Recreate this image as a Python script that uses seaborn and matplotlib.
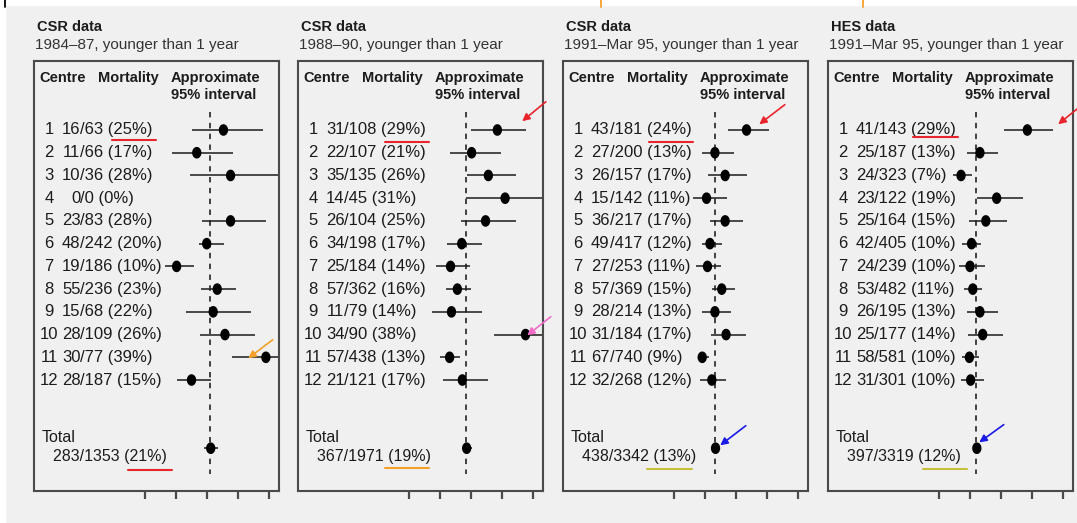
import numpy as np
import matplotlib
matplotlib.use("Agg")
import matplotlib.pyplot as plt
from matplotlib.lines import Line2D
from matplotlib.patches import Rectangle
from matplotlib.transforms import blended_transform_factory
import seaborn as sns

# ---------------- data ----------------
titles = ["CSR data", "CSR data", "CSR data", "HES data"]
subtitles = ["1984\u201387, younger than 1 year",
             "1988\u201390, younger than 1 year",
             "1991\u2013Mar 95, younger than 1 year",
             "1991\u2013Mar 95, younger than 1 year"]
centres = list(range(1, 13))

deaths1 = [16, 11, 10, 0, 23, 48, 19, 55, 15, 28, 30, 28]
n1 = [63, 66, 36, 0, 83, 242, 186, 236, 68, 109, 77, 187]
pct1 = [25, 17, 28, 0, 28, 20, 10, 23, 22, 26, 39, 15]
est1 = [25.3, 16.7, 27.6, np.nan, 27.6, 19.9, 10.2, 23.3, 22.0, 25.8, 39.0, 15.0]
lo1 = [15.3, 8.8, 14.5, np.nan, 18.3, 17.5, 6.5, 18.0, 13.1, 17.7, 28.2, 10.4]
hi1 = [38.2, 28.3, 48.0, np.nan, 38.9, 25.5, 15.8, 29.4, 34.2, 35.5, 50.0, 21.2]

deaths2 = [31, 22, 35, 14, 26, 34, 25, 57, 11, 34, 57, 21]
n2 = [108, 107, 135, 45, 104, 198, 184, 362, 79, 90, 438, 121]
pct2 = [29, 21, 26, 31, 25, 17, 14, 16, 14, 38, 13, 17]
est2 = [28.5, 20.2, 25.6, 31.0, 24.7, 17.0, 13.4, 15.6, 13.7, 37.6, 13.1, 17.2]
lo2 = [19.9, 13.2, 18.6, 18.3, 16.9, 12.2, 8.8, 11.8, 7.3, 27.4, 9.9, 11.0]
hi2 = [37.9, 29.6, 34.4, 48.0, 34.4, 23.4, 19.7, 19.9, 23.7, 48.0, 16.5, 25.5]

deaths3 = [43, 27, 26, 15, 36, 49, 27, 57, 28, 31, 67, 32]
n3 = [181, 200, 157, 142, 217, 417, 253, 369, 214, 184, 740, 268]
pct3 = [24, 13, 17, 11, 17, 12, 11, 15, 13, 17, 9, 12]
est3 = [23.4, 13.2, 16.5, 10.5, 16.5, 11.6, 10.8, 15.4, 13.2, 16.8, 9.1, 12.2]
lo3 = [17.3, 8.9, 11.1, 6.2, 11.6, 8.9, 7.1, 12.2, 8.9, 11.9, 7.8, 8.4]
hi3 = [30.6, 19.4, 23.6, 17.0, 22.4, 15.4, 15.1, 19.7, 18.4, 23.2, 11.3, 16.8]

deaths4 = [41, 25, 24, 23, 25, 42, 24, 53, 26, 25, 58, 31]
n4 = [143, 187, 323, 122, 164, 405, 239, 482, 195, 177, 581, 301]
pct4 = [29, 13, 7, 19, 15, 10, 10, 11, 13, 14, 10, 10]
est4 = [28.5, 13.2, 7.1, 18.6, 15.1, 10.5, 10.0, 10.9, 13.2, 14.1, 9.8, 10.2]
lo4 = [21.1, 8.9, 4.6, 12.4, 9.8, 7.3, 6.5, 8.2, 8.9, 9.3, 7.3, 7.0]
hi4 = [36.9, 19.1, 10.5, 27.2, 21.8, 13.5, 14.8, 13.8, 19.1, 20.5, 13.0, 14.6]

total_deaths = [283, 367, 438, 397]
total_n = [1353, 1971, 3342, 3319]
total_pct = [21, 19, 13, 12]
total_est = [21.2, 18.6, 13.4, 12.2]
total_lo = [19.1, 17.0, 12.4, 11.2]
total_hi = [23.6, 20.4, 14.4, 13.2]
overall = [20.9, 18.4, 13.1, 12.0]
xticks = [0, 10, 20, 30, 40]

panels = [
    (deaths1, n1, pct1, est1, lo1, hi1),
    (deaths2, n2, pct2, est2, lo2, hi2),
    (deaths3, n3, pct3, est3, lo3, hi3),
    (deaths4, n4, pct4, est4, lo4, hi4),
]

# ---------------- style ----------------
sns.set_style("white")
plt.rcParams["font.family"] = ["Liberation Sans", "DejaVu Sans"]
INK = "#1c1c1c"
BG = "#f0f0f0"

W, H = 1077, 523
fig = plt.figure(figsize=(W / 100, H / 100), dpi=100)
fig.patch.set_facecolor(BG)
fig.add_artist(Rectangle((0, 1 - 5 / H), 1, 5 / H, transform=fig.transFigure,
                         color="white", zorder=0))
fig.add_artist(Rectangle((0, 0), 5 / W, 1, transform=fig.transFigure,
                         color="white", zorder=0))

box_lefts = [34, 298, 563, 828]
BOX_W, BOX_TOP, BOX_H = 245, 61, 430
ZERO = 111          # px from box left to 0 %
PXPC = 3.1          # px per percent
ROW0 = 69           # px from box top to row 1
ROWSP = 22.73       # px between rows

xlim = (-ZERO / PXPC, (BOX_W - ZERO) / PXPC)
ylim = ((BOX_H - ROW0) / ROWSP, -ROW0 / ROWSP)


def py(px):
    """pixel offset from box top -> row units"""
    return (px - ROW0) / ROWSP


t = np.linspace(0, 2 * np.pi, 40)
ellipse = np.c_[0.8 * np.cos(t), np.sin(t)]

for k, (d, n, p, est, lo, hi) in enumerate(panels):
    L = box_lefts[k]
    ax = fig.add_axes([L / W, 1 - (BOX_TOP + BOX_H) / H, BOX_W / W, BOX_H / H])
    ax.set_facecolor(BG)
    ax.set_xlim(*xlim)
    ax.set_ylim(*ylim)
    for s in ax.spines.values():
        s.set_visible(True)
        s.set_color("#4a4a4a")
        s.set_linewidth(1.5)
    ax.set_xticks(xticks)
    ax.set_yticks([])
    ax.tick_params(axis="x", bottom=True, direction="out", length=6,
                   width=1.6, color="#4a4a4a", labelbottom=False)

    rows = np.arange(12)
    ax.hlines(rows, lo, hi, color=INK, lw=1.1, zorder=2)
    ax.hlines([14], [total_lo[k]], [total_hi[k]], color=INK, lw=1.1, zorder=2)
    ax.vlines(overall[k], py(51), py(413), color="#333333", lw=1.3,
              linestyles=(0, (3, 3)), zorder=1)
    sns.scatterplot(x=list(est) + [total_est[k]], y=list(rows) + [14], ax=ax,
                    marker=ellipse, s=70, color="#000000", edgecolor="none",
                    legend=False, zorder=3)
    ax.set_xlabel("")
    ax.set_ylabel("")

    tr = blended_transform_factory(ax.transAxes, ax.transData)
    hdr = dict(transform=tr, fontsize=10.5, fontweight="bold", color=INK,
               va="center", ha="left")
    ax.text(5 / BOX_W, py(17), "Centre", **hdr)
    ax.text(64 / BOX_W, py(17), "Mortality", **hdr)
    ax.text(137 / BOX_W, py(17), "Approximate", **hdr)
    ax.text(137 / BOX_W, py(34), "95% interval", **hdr)

    rowtxt = dict(transform=tr, fontsize=12, color=INK, va="center")
    for i in range(12):
        ax.text(15 / BOX_W, i, str(centres[i]), ha="center", **rowtxt)
        ax.text(46.5 / BOX_W, i, str(d[i]), ha="right", **rowtxt)
        ax.text(46.5 / BOX_W, i, f"/{n[i]} ({p[i]}%)", ha="left", **rowtxt)
    ax.text(8 / BOX_W, py(377), "Total", ha="left", transform=tr,
            fontsize=11.5, color=INK, va="center")
    ax.text(19 / BOX_W, py(396),
            f"{total_deaths[k]}/{total_n[k]} ({total_pct[k]}%)", ha="left",
            transform=tr, fontsize=11.5, color=INK, va="center")

    fig.text((L + 3) / W, 1 - 27 / H, titles[k], fontsize=10.5,
             fontweight="bold", color=INK, va="center", ha="left")
    fig.text((L + 1) / W, 1 - 45 / H, subtitles[k], fontsize=11,
             color="#333333", va="center", ha="left")

# ---------------- hand-drawn annotations ----------------
RED, ORANGE, YEL, BLUE, PINK = "#e8242c", "#f5a02a", "#c8c03a", "#1a1ae6", "#f06cc8"
underlines = [
    (112, 156, 140, RED), (128, 172, 470, RED),
    (385, 429, 142, RED), (385, 429, 468, ORANGE),
    (649, 693, 142, RED), (647, 692, 469, YEL),
    (913, 958, 137, RED), (923, 967, 469, YEL),
]
for x1, x2, y, c in underlines:
    fig.add_artist(Line2D([x1 / W, x2 / W], [1 - y / H, 1 - y / H],
                          transform=fig.transFigure, color=c, lw=1.5))

arrows = [
    ((275, 338), (246, 360), ORANGE),
    ((548, 100), (520, 123), RED),
    ((553, 315), (525, 337), PINK),
    ((787, 103), (757, 126), RED),
    ((748, 424), (718, 447), BLUE),
    ((1082, 105), (1056, 126), RED),
    ((1006, 423), (977, 444), BLUE),
]
for (tx, ty), (hx, hy), c in arrows:
    fig.add_artist(matplotlib.patches.FancyArrowPatch(
        (tx / W, 1 - ty / H), (hx / W, 1 - hy / H), transform=fig.transFigure,
        arrowstyle="-|>", mutation_scale=11, color=c, lw=1.2))

for x, c in [(5, "#000000"), (601, ORANGE), (863, ORANGE)]:
    fig.add_artist(Line2D([x / W, x / W], [1, 1 - 7 / H],
                          transform=fig.transFigure, color=c, lw=1.3))

fig.savefig("out.png", dpi=100, facecolor=fig.get_facecolor())
